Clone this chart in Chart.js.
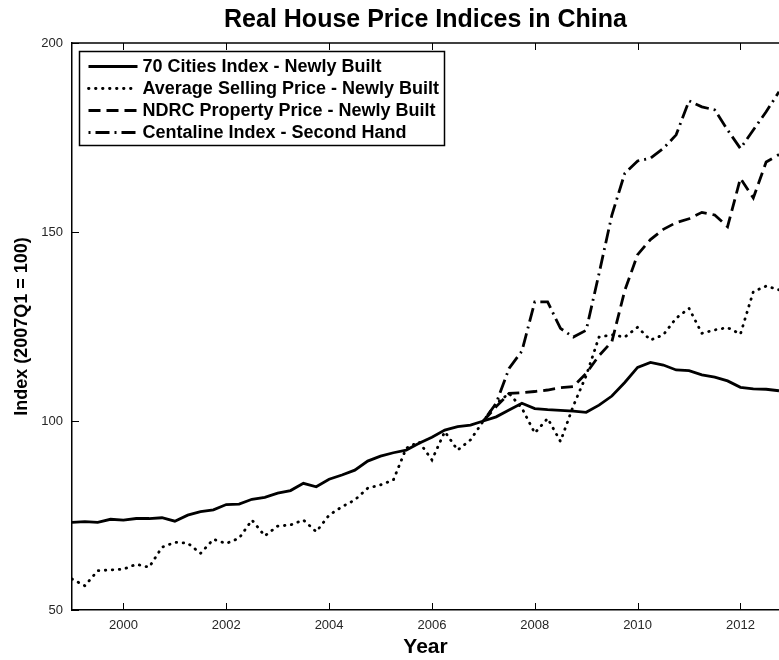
<!DOCTYPE html>
<html>
<head>
<meta charset="utf-8">
<title>Real House Price Indices in China</title>
<script src="https://cdn.jsdelivr.net/npm/chart.js@4.4.1/dist/chart.umd.min.js"></script>
<style>
    body { margin: 0; background: #fff; }
    canvas { display: block; }
</style>
</head>
<body>
<canvas id="myChart" width="779" height="660"></canvas>
<script>
// quarterly observations, 1999Q1 .. 2012Q4
const quarters = [
    1999.00, 1999.25, 1999.50, 1999.75,
    2000.00, 2000.25, 2000.50, 2000.75,
    2001.00, 2001.25, 2001.50, 2001.75,
    2002.00, 2002.25, 2002.50, 2002.75,
    2003.00, 2003.25, 2003.50, 2003.75,
    2004.00, 2004.25, 2004.50, 2004.75,
    2005.00, 2005.25, 2005.50, 2005.75,
    2006.00, 2006.25, 2006.50, 2006.75,
    2007.00, 2007.25, 2007.50, 2007.75,
    2008.00, 2008.25, 2008.50, 2008.75,
    2009.00, 2009.25, 2009.50, 2009.75,
    2010.00, 2010.25, 2010.50, 2010.75,
    2011.00, 2011.25, 2011.50, 2011.75,
    2012.00, 2012.25, 2012.50, 2012.75
];

const cities70 = [
    73.2, 73.4, 73.2, 74.0,
    73.8, 74.2, 74.2, 74.4,
    73.5, 75.1, 76.0, 76.5,
    77.9, 78.0, 79.3, 79.8,
    80.9, 81.6, 83.5, 82.6,
    84.6, 85.7, 87.0, 89.4,
    90.7, 91.6, 92.3, 94.1,
    95.7, 97.6, 98.5, 98.9,
    100.0, 101.1, 102.9, 104.7,
    103.3, 103.0, 102.8, 102.6,
    102.3, 104.2, 106.6, 110.2,
    114.2, 115.5, 114.8, 113.5,
    113.3, 112.2, 111.6, 110.6,
    108.9, 108.5, 108.4, 108.0
];

const avgSelling = [
    58.2, 56.4, 60.4, 60.6,
    60.8, 62.1, 61.3, 66.6,
    67.9, 67.7, 65.0, 68.7,
    67.6, 69.0, 73.8, 69.6,
    72.2, 72.5, 73.8, 70.7,
    75.1, 77.3, 79.1, 82.2,
    83.1, 84.4, 92.8, 94.5,
    89.7, 97.2, 92.3, 95.0,
    100.0, 104.6, 107.3, 103.4,
    96.8, 100.7, 94.6, 104.0,
    112.0, 122.2, 122.8, 122.2,
    124.8, 121.4, 122.8, 127.2,
    129.8, 123.2, 124.1, 124.7,
    123.0, 134.2, 135.7, 134.7
];

// NDRC and Centaline only start in 2007Q1
const ndrc = [
    null, null, null, null,
    null, null, null, null,
    null, null, null, null,
    null, null, null, null,
    null, null, null, null,
    null, null, null, null,
    null, null, null, null,
    null, null, null, null,
    100.0, 103.8, 107.3, 107.5,
    107.8, 108.2, 108.8, 109.1,
    112.6, 117.3, 121.0, 134.5,
    144.0, 148.0, 150.7, 152.5,
    153.5, 155.2, 154.5, 151.4,
    164.2, 159.0, 168.5, 170.5
];

const centaline = [
    null, null, null, null,
    null, null, null, null,
    null, null, null, null,
    null, null, null, null,
    null, null, null, null,
    null, null, null, null,
    null, null, null, null,
    null, null, null, null,
    100.0, 104.7, 113.9, 118.5,
    131.5, 131.5, 124.5, 122.2,
    124.0, 139.0, 154.5, 165.5,
    168.8, 169.5, 172.1, 175.7,
    184.7, 183.1, 182.3, 177.0,
    172.1, 177.0, 181.8, 187.1
];

const seriesLabels = [
    '70 Cities Index - Newly Built',
    'Average Selling Price - Newly Built',
    'NDRC Property Price - Newly Built',
    'Centaline Index - Second Hand'
];

const xTickValues = [2000, 2002, 2004, 2006, 2008, 2010, 2012];
const yTickValues = [50, 100, 150, 200];

const chartTitle = 'Real House Price Indices in China';
const xTitle = 'Year';
const yTitle = 'Index (2007Q1 = 100)';

const FONT = "'Liberation Sans', Arial, Helvetica, sans-serif";

function toPoints(values) {
    return quarters
        .map((q, i) => ({ x: q, y: values[i] }))
        .filter(p => p.y !== null);
}

function lineSet(label, values, dash, cap) {
    return {
        label: label,
        data: toPoints(values),
        borderColor: '#000',
        backgroundColor: '#000',
        borderWidth: 2.8,
        borderDash: dash,
        borderCapStyle: cap,
        pointRadius: 0,
        tension: 0,
        fill: false
    };
}

// title, top frame line and inward ticks (MATLAB look)
const framePlugin = {
    id: 'frame',
    afterDraw(chart) {
        const { ctx, chartArea, scales } = chart;
        ctx.save();
        ctx.strokeStyle = '#000';
        ctx.lineWidth = 1.5;

        ctx.beginPath();
        ctx.moveTo(chartArea.left, chartArea.top);
        ctx.lineTo(chartArea.right, chartArea.top);
        ctx.stroke();

        ctx.lineWidth = 1;
        xTickValues.forEach(v => {
            const px = Math.round(scales.x.getPixelForValue(v)) + 0.5;
            ctx.beginPath();
            ctx.moveTo(px, chartArea.bottom);
            ctx.lineTo(px, chartArea.bottom - 7);
            ctx.moveTo(px, chartArea.top);
            ctx.lineTo(px, chartArea.top + 7);
            ctx.stroke();
        });
        yTickValues.forEach(v => {
            const py = Math.round(scales.y.getPixelForValue(v)) + 0.5;
            ctx.beginPath();
            ctx.moveTo(chartArea.left, py);
            ctx.lineTo(chartArea.left + 7, py);
            ctx.stroke();
        });

        ctx.fillStyle = '#000';
        ctx.font = 'bold 25px ' + FONT;
        ctx.textAlign = 'center';
        ctx.textBaseline = 'middle';
        ctx.fillText(chartTitle, (chartArea.left + chartArea.right) / 2, 20);
        ctx.restore();
    }
};

// boxed legend in the upper left corner of the axes
const legendPlugin = {
    id: 'boxLegend',
    afterDatasetsDraw(chart) {
        const { ctx, chartArea } = chart;
        const left = chartArea.left + 7.5;
        const top = chartArea.top + 8.5;
        const width = 365;
        const height = 94;
        ctx.save();
        ctx.fillStyle = '#fff';
        ctx.fillRect(left, top, width, height);
        ctx.strokeStyle = '#000';
        ctx.lineWidth = 1.5;
        ctx.strokeRect(left, top, width, height);

        ctx.font = 'bold 18px ' + FONT;
        ctx.textAlign = 'left';
        ctx.textBaseline = 'middle';
        chart.data.datasets.forEach((ds, i) => {
            const y = top + 15 + i * 22;
            ctx.beginPath();
            ctx.setLineDash(ds.borderDash || []);
            ctx.lineCap = ds.borderCapStyle || 'butt';
            ctx.lineWidth = ds.borderWidth;
            ctx.moveTo(left + 9, y);
            ctx.lineTo(left + 58, y);
            ctx.stroke();
            ctx.setLineDash([]);
            ctx.fillStyle = '#000';
            ctx.fillText(ds.label, left + 63, y + 1);
        });
        ctx.restore();
    }
};

document.addEventListener('DOMContentLoaded', () => {
    const ctx = document.querySelector('#myChart').getContext('2d');

    new Chart(ctx, {
        type: 'line',
        data: {
            datasets: [
                lineSet(seriesLabels[0], cities70, [], 'butt'),
                lineSet(seriesLabels[1], avgSelling, [0.5, 6.5], 'round'),
                lineSet(seriesLabels[2], ndrc, [12, 6], 'butt'),
                lineSet(seriesLabels[3], centaline, [2, 5, 14, 5], 'butt')
            ]
        },
        options: {
            responsive: false,
            animation: false,
            devicePixelRatio: 1,
            layout: { padding: { top: 43, right: 0, bottom: 0, left: 0 } },
            plugins: {
                legend: { display: false },
                title: { display: false },
                tooltip: { enabled: false }
            },
            scales: {
                x: {
                    type: 'linear',
                    min: 1999,
                    max: 2012.75,
                    afterBuildTicks: scale => {
                        scale.ticks = xTickValues.map(v => ({ value: v }));
                    },
                    afterFit: scale => { scale.height = 50; },
                    grid: { display: true, drawOnChartArea: false, drawTicks: false },
                    border: { display: true, color: '#000', width: 1.5 },
                    ticks: {
                        color: '#262626',
                        font: { family: FONT, size: 13 },
                        padding: 8,
                        maxRotation: 0,
                        callback: v => String(v)
                    },
                    title: {
                        display: true,
                        text: xTitle,
                        color: '#000',
                        font: { family: FONT, size: 21, weight: 'bold' },
                        padding: { top: 0, bottom: 0 }
                    }
                },
                y: {
                    type: 'linear',
                    min: 50,
                    max: 200,
                    afterBuildTicks: scale => {
                        scale.ticks = yTickValues.map(v => ({ value: v }));
                    },
                    afterFit: scale => { scale.width = 72; },
                    grid: { display: true, drawOnChartArea: false, drawTicks: false },
                    border: { display: true, color: '#000', width: 1.5 },
                    ticks: {
                        color: '#262626',
                        font: { family: FONT, size: 13 },
                        padding: 9,
                        callback: v => String(v)
                    },
                    title: {
                        display: true,
                        text: yTitle,
                        color: '#000',
                        font: { family: FONT, size: 18, weight: 'bold' },
                        padding: { top: 11, bottom: 0 }
                    }
                }
            }
        },
        plugins: [legendPlugin, framePlugin]
    });
});
</script>
</body>
</html>
